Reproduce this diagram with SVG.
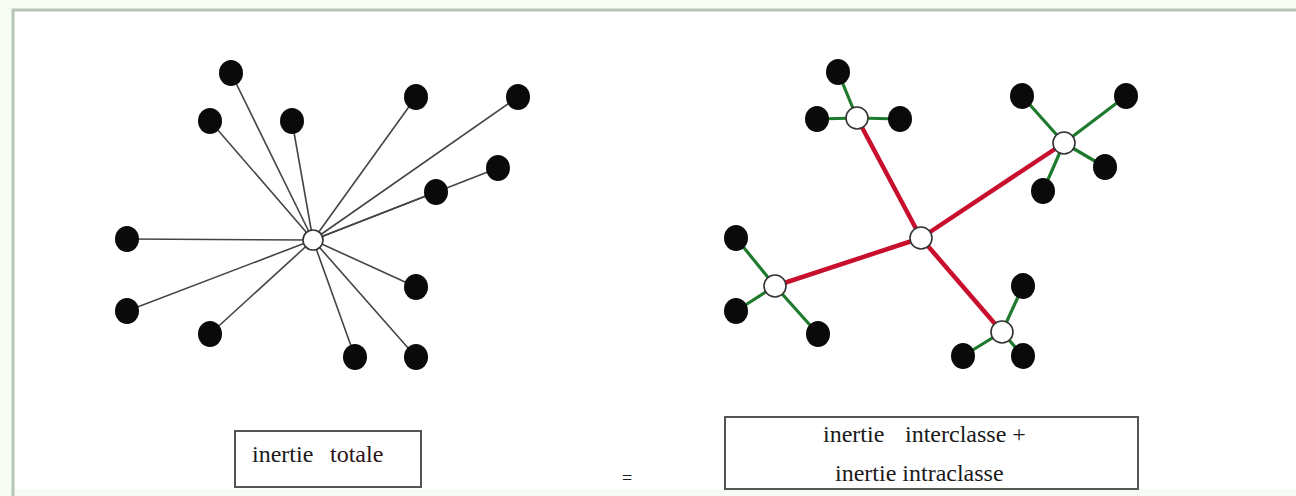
<svg xmlns="http://www.w3.org/2000/svg" width="1296" height="496" viewBox="0 0 1296 496">
<style>
.dot{fill:#0a0a0a}
.hol{fill:#fff;stroke:#333;stroke-width:1.6}
.ln{stroke:#444;stroke-width:1.6;fill:none}
.red{stroke:#c8102e;stroke-width:4.5;fill:none;stroke-linecap:round}
.grn{stroke:#1e7a2c;stroke-width:3.2;fill:none;stroke-linecap:round}
.box{fill:#fff;stroke:#555;stroke-width:2}
.t{font-family:"Liberation Serif","Times New Roman",serif;font-size:24px;fill:#1a1a1a}
</style>
<rect x="0" y="0" width="1296" height="496" fill="#f6fcf4"/>
<rect x="14" y="11" width="1282" height="478" fill="#fff"/>
<path d="M13 496 V10 H1296" fill="none" stroke="#b6c6b6" stroke-width="3"/>

<g id="connectors">
  <g id="left-links">
    <line class="ln" x1="313" y1="240" x2="231" y2="73"/>
    <line class="ln" x1="313" y1="240" x2="210" y2="121"/>
    <line class="ln" x1="313" y1="240" x2="292" y2="121"/>
    <line class="ln" x1="313" y1="240" x2="416" y2="97"/>
    <line class="ln" x1="313" y1="240" x2="518" y2="97"/>
    <line class="ln" x1="313" y1="240" x2="498" y2="168"/>
    <line class="ln" x1="313" y1="240" x2="436" y2="192"/>
    <line class="ln" x1="313" y1="240" x2="127" y2="239"/>
    <line class="ln" x1="313" y1="240" x2="127" y2="311"/>
    <line class="ln" x1="313" y1="240" x2="210" y2="334"/>
    <line class="ln" x1="313" y1="240" x2="355" y2="357"/>
    <line class="ln" x1="313" y1="240" x2="416" y2="357"/>
    <line class="ln" x1="313" y1="240" x2="416" y2="287"/>
  </g>
  <g id="inter-links">
    <line class="red" x1="921" y1="238" x2="857" y2="118"/>
    <line class="red" x1="921" y1="238" x2="1064" y2="143"/>
    <line class="red" x1="921" y1="238" x2="775" y2="286"/>
    <line class="red" x1="921" y1="238" x2="1002" y2="332"/>
  </g>
  <g id="intra-links">
    <line class="grn" x1="857" y1="118" x2="838" y2="72"/>
    <line class="grn" x1="857" y1="118" x2="817" y2="119"/>
    <line class="grn" x1="857" y1="118" x2="900" y2="119"/>
    <line class="grn" x1="1064" y1="143" x2="1022" y2="96"/>
    <line class="grn" x1="1064" y1="143" x2="1126" y2="96"/>
    <line class="grn" x1="1064" y1="143" x2="1105" y2="167"/>
    <line class="grn" x1="1064" y1="143" x2="1043" y2="191"/>
    <line class="grn" x1="775" y1="286" x2="736" y2="238"/>
    <line class="grn" x1="775" y1="286" x2="736" y2="311"/>
    <line class="grn" x1="775" y1="286" x2="818" y2="334"/>
    <line class="grn" x1="1002" y1="332" x2="1023" y2="286"/>
    <line class="grn" x1="1002" y1="332" x2="963" y2="356"/>
    <line class="grn" x1="1002" y1="332" x2="1023" y2="356"/>
  </g>
</g>

<g id="left-points">
  <ellipse class="dot" cx="231" cy="73" rx="12" ry="13"/>
  <ellipse class="dot" cx="210" cy="121" rx="12" ry="13"/>
  <ellipse class="dot" cx="292" cy="121" rx="12" ry="13"/>
  <ellipse class="dot" cx="416" cy="97" rx="12" ry="13"/>
  <ellipse class="dot" cx="518" cy="97" rx="12" ry="13"/>
  <ellipse class="dot" cx="498" cy="168" rx="12" ry="13"/>
  <ellipse class="dot" cx="436" cy="192" rx="12" ry="13"/>
  <ellipse class="dot" cx="127" cy="239" rx="12" ry="13"/>
  <ellipse class="dot" cx="127" cy="311" rx="12" ry="13"/>
  <ellipse class="dot" cx="210" cy="334" rx="12" ry="13"/>
  <ellipse class="dot" cx="355" cy="357" rx="12" ry="13"/>
  <ellipse class="dot" cx="416" cy="357" rx="12" ry="13"/>
  <ellipse class="dot" cx="416" cy="287" rx="12" ry="13"/>
</g>
<g id="left-center"><circle class="hol" cx="313" cy="240" r="10"/></g>

<g id="cluster-top-left">
  <ellipse class="dot" cx="838" cy="72" rx="12" ry="13"/>
  <ellipse class="dot" cx="817" cy="119" rx="12" ry="13"/>
  <ellipse class="dot" cx="900" cy="119" rx="12" ry="13"/>
  <circle class="hol" cx="857" cy="118" r="11"/>
</g>
<g id="cluster-top-right">
  <ellipse class="dot" cx="1022" cy="96" rx="12" ry="13"/>
  <ellipse class="dot" cx="1126" cy="96" rx="12" ry="13"/>
  <ellipse class="dot" cx="1105" cy="167" rx="12" ry="13"/>
  <ellipse class="dot" cx="1043" cy="191" rx="12" ry="13"/>
  <circle class="hol" cx="1064" cy="143" r="11"/>
</g>
<g id="cluster-left">
  <ellipse class="dot" cx="736" cy="238" rx="12" ry="13"/>
  <ellipse class="dot" cx="736" cy="311" rx="12" ry="13"/>
  <ellipse class="dot" cx="818" cy="334" rx="12" ry="13"/>
  <circle class="hol" cx="775" cy="286" r="11"/>
</g>
<g id="cluster-bottom-right">
  <ellipse class="dot" cx="1023" cy="286" rx="12" ry="13"/>
  <ellipse class="dot" cx="963" cy="356" rx="12" ry="13"/>
  <ellipse class="dot" cx="1023" cy="356" rx="12" ry="13"/>
  <circle class="hol" cx="1002" cy="332" r="11"/>
</g>
<g id="right-center"><circle class="hol" cx="921" cy="238" r="11"/></g>

<g id="box-total">
  <rect class="box" x="235" y="431" width="186" height="56"/>
  <text class="t" x="252" y="462">inertie</text>
  <text class="t" x="330" y="462" style="fill:#2e1218">totale</text>
</g>
<g id="equals"><text class="t" x="622" y="484" style="font-size:18px">=</text></g>
<g id="box-sum">
  <rect class="box" x="725" y="417" width="413" height="72"/>
  <text class="t" x="823" y="442">inertie</text>
  <text class="t" x="905" y="442">interclasse +</text>
  <text class="t" x="835" y="481">inertie intraclasse</text>
</g>
</svg>
